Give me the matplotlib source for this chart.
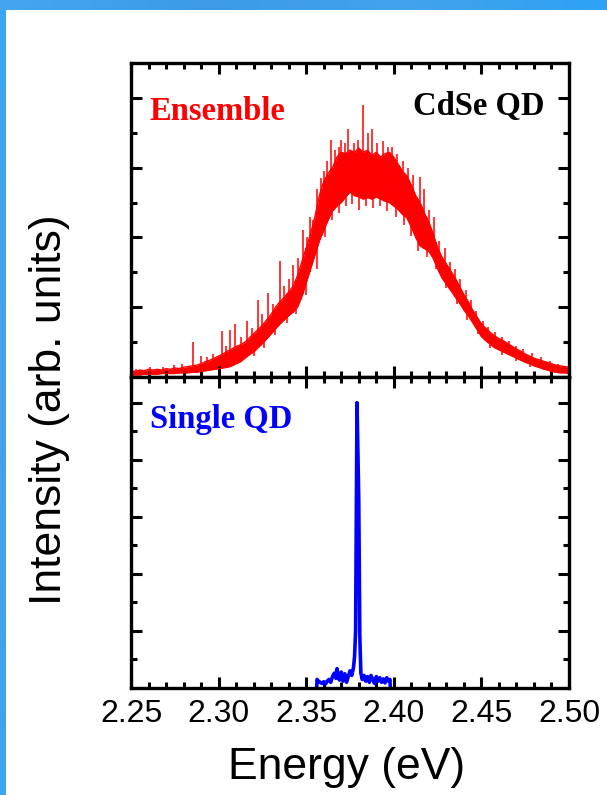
import numpy as np
import matplotlib.pyplot as plt
from matplotlib.colors import LinearSegmentedColormap
from matplotlib.ticker import MultipleLocator

# ensemble PL spectrum: energy grid with lower / upper edge of the noisy band
e_ens = [2.2500, 2.2525, 2.2550, 2.2575, 2.2600, 2.2625, 2.2650, 2.2675, 2.2700, 2.2725,
         2.2750, 2.2775, 2.2800, 2.2825, 2.2850, 2.2875, 2.2900, 2.2925, 2.2950, 2.2975,
         2.3000, 2.3025, 2.3050, 2.3075, 2.3100, 2.3125, 2.3150, 2.3175, 2.3200, 2.3225,
         2.3250, 2.3275, 2.3300, 2.3325, 2.3350, 2.3375, 2.3400, 2.3425, 2.3450, 2.3475,
         2.3500, 2.3525, 2.3550, 2.3575, 2.3600, 2.3625, 2.3650, 2.3675, 2.3700, 2.3725,
         2.3750, 2.3775, 2.3800, 2.3825, 2.3850, 2.3875, 2.3900, 2.3925, 2.3950, 2.3975,
         2.4000, 2.4025, 2.4050, 2.4075, 2.4100, 2.4125, 2.4150, 2.4175, 2.4200, 2.4225,
         2.4250, 2.4275, 2.4300, 2.4325, 2.4350, 2.4375, 2.4400, 2.4425, 2.4450, 2.4475,
         2.4500, 2.4525, 2.4550, 2.4575, 2.4600, 2.4625, 2.4650, 2.4675, 2.4700, 2.4725,
         2.4750, 2.4775, 2.4800, 2.4825, 2.4850, 2.4875, 2.4900, 2.4925, 2.4950, 2.4975,
         2.5000]
ens_lo = [0.03, 0.03, 0.03, 0.04, 0.04, 0.04, 0.04, 0.05, 0.05, 0.05,
          0.05, 0.06, 0.06, 0.06, 0.07, 0.07, 0.08, 0.09, 0.10, 0.11,
          0.12, 0.13, 0.14, 0.16, 0.19, 0.22, 0.27, 0.32, 0.36, 0.42,
          0.48, 0.55, 0.62, 0.69, 0.76, 0.82, 0.88, 0.93, 1.00, 1.15,
          1.35, 1.55, 1.75, 1.95, 2.10, 2.25, 2.38, 2.45, 2.50, 2.58,
          2.65, 2.60, 2.58, 2.55, 2.57, 2.55, 2.58, 2.55, 2.52, 2.50,
          2.45, 2.40, 2.33, 2.28, 2.15, 2.00, 1.88, 1.84, 1.80, 1.70,
          1.55, 1.42, 1.33, 1.24, 1.15, 1.06, 0.96, 0.88, 0.78, 0.68,
          0.58, 0.52, 0.47, 0.42, 0.39, 0.36, 0.33, 0.30, 0.27, 0.24,
          0.21, 0.19, 0.16, 0.14, 0.12, 0.10, 0.08, 0.07, 0.06, 0.06,
          0.05]
ens_hi = [0.09, 0.08, 0.10, 0.09, 0.11, 0.10, 0.11, 0.10, 0.12, 0.11,
          0.13, 0.12, 0.14, 0.15, 0.16, 0.17, 0.19, 0.22, 0.24, 0.27,
          0.30, 0.33, 0.37, 0.40, 0.44, 0.46, 0.50, 0.56, 0.62, 0.68,
          0.74, 0.82, 0.90, 1.00, 1.08, 1.14, 1.22, 1.30, 1.45, 1.65,
          1.85, 2.05, 2.30, 2.60, 2.80, 2.92, 3.00, 3.15, 3.22, 3.20,
          3.25, 3.22, 3.28, 3.22, 3.25, 3.18, 3.22, 3.15, 3.20, 3.22,
          3.15, 3.05, 2.95, 2.88, 2.75, 2.60, 2.50, 2.35, 2.22, 2.05,
          1.85, 1.72, 1.62, 1.52, 1.42, 1.30, 1.18, 1.08, 0.96, 0.86,
          0.76, 0.70, 0.64, 0.59, 0.55, 0.52, 0.48, 0.44, 0.40, 0.37,
          0.33, 0.30, 0.27, 0.25, 0.23, 0.21, 0.19, 0.17, 0.16, 0.15,
          0.14]

# noise spikes above the band (energy, top value)
spike_e = [2.2530, 2.2610, 2.2680, 2.2745, 2.2790, 2.2854, 2.2898, 2.2935, 2.2970, 2.3018,
           2.3040, 2.3065, 2.3094, 2.3125, 2.3160, 2.3190, 2.3225, 2.3250, 2.3280, 2.3310,
           2.3350, 2.3375, 2.3400, 2.3425, 2.3455, 2.3480, 2.3505, 2.3520, 2.3540, 2.3560,
           2.3585, 2.3600, 2.3620, 2.3640, 2.3665, 2.3685, 2.3700, 2.3720, 2.3740, 2.3770,
           2.3795, 2.3824, 2.3850, 2.3875, 2.3905, 2.3940, 2.3965, 2.3990, 2.4020, 2.4050,
           2.4080, 2.4110, 2.4150, 2.4175, 2.4200, 2.4230, 2.4260, 2.4290, 2.4320, 2.4350,
           2.4380, 2.4410, 2.4440, 2.4470, 2.4510, 2.4540, 2.4580, 2.4620, 2.4660, 2.4700,
           2.4740, 2.4790, 2.4840, 2.4890, 2.4940, 2.4980]
spike_h = [0.12, 0.14, 0.15, 0.17, 0.18, 0.50, 0.30, 0.28, 0.33, 0.66,
           0.45, 0.68, 0.76, 0.58, 0.80, 0.70, 1.10, 0.90, 1.20, 1.05,
           1.66, 1.30, 1.40, 1.60, 1.70, 2.10, 2.00, 2.30, 2.25, 2.70,
           2.85, 2.95, 3.10, 3.40, 3.25, 3.30, 3.40, 3.35, 3.55, 3.35,
           3.40, 3.90, 3.50, 3.55, 3.35, 3.38, 3.30, 3.30, 3.20, 3.10,
           3.00, 2.90, 2.86, 2.70, 2.40, 2.30, 1.95, 1.85, 1.65, 1.55,
           1.40, 1.25, 1.10, 0.95, 0.80, 0.72, 0.64, 0.58, 0.52, 0.45,
           0.40, 0.34, 0.28, 0.23, 0.19, 0.16]

# noise dips below the band (energy, bottom value)
dip_e = [2.3200, 2.3260, 2.3320, 2.3390, 2.3440, 2.3500, 2.3560, 2.3610, 2.3650, 2.3690,
         2.3730, 2.3760, 2.3800, 2.3840, 2.3880, 2.3920, 2.3960, 2.4010, 2.4060, 2.4100,
         2.4140, 2.4190, 2.4240, 2.4300, 2.4360, 2.4420, 2.4480, 2.4550, 2.4620, 2.4700,
         2.4780, 2.4860]
dip_v = [0.30, 0.42, 0.60, 0.78, 0.90, 1.18, 1.55, 2.00, 2.25, 2.35,
         2.45, 2.48, 2.40, 2.45, 2.42, 2.45, 2.38, 2.30, 2.18, 2.02,
         1.80, 1.72, 1.55, 1.28, 1.05, 0.82, 0.62, 0.42, 0.32, 0.23,
         0.15, 0.10]

# single dot spectrum
e_qd = [2.3560, 2.3562, 2.3570, 2.3580, 2.3590, 2.3600, 2.3610, 2.3620, 2.3630, 2.3640,
        2.3650, 2.3660, 2.3670, 2.3676, 2.3682, 2.3690, 2.3700, 2.3710, 2.3720, 2.3730,
        2.3740, 2.3750, 2.3760, 2.3770, 2.3776, 2.3782, 2.3790, 2.3800, 2.3806, 2.3812,
        2.3820, 2.3830, 2.3840, 2.3850, 2.3860, 2.3870, 2.3880, 2.3890, 2.3900, 2.3910,
        2.3920, 2.3930, 2.3940, 2.3950, 2.3960, 2.3970, 2.3978, 2.3980]
qd = [0.00, 0.15, 0.12, 0.10, 0.08, 0.11, 0.07, 0.12, 0.15, 0.10,
      0.20, 0.26, 0.17, 0.34, 0.22, 0.14, 0.28, 0.12, 0.25, 0.10,
      0.20, 0.30, 0.22, 0.36, 0.55, 1.00, 5.00, 3.30, 0.90, 0.26,
      0.15, 0.22, 0.12, 0.20, 0.10, 0.22, 0.15, 0.08, 0.20, 0.12,
      0.18, 0.10, 0.16, 0.09, 0.18, 0.12, 0.15, 0.00]

xticks = [2.25, 2.30, 2.35, 2.40, 2.45, 2.50]
xticklabels = ["2.25", "2.30", "2.35", "2.40", "2.45", "2.50"]

W, H = 607, 795
fig = plt.figure(figsize=(W / 100, H / 100), dpi=100)
fig.patch.set_facecolor("white")

# blue slide frame (top strip and left strip)
top = fig.add_axes([0, 1 - 10 / H, 1, 10 / H])
top.imshow(np.linspace(0, 1, 256).reshape(1, -1), aspect="auto",
           cmap=LinearSegmentedColormap.from_list(
               "t", ["#45a6ee", "#3d9be6", "#42a2ea", "#2ea2f5"]), extent=[0, 1, 0, 1])
top.axis("off")
left = fig.add_axes([0, 0, 6 / W, 1 - 10 / H])
left.imshow(np.linspace(0, 1, 256).reshape(-1, 1), aspect="auto",
            cmap=LinearSegmentedColormap.from_list(
                "l", ["#3aa8f0", "#4aa0e6", "#3ba6ee"]), extent=[0, 1, 0, 1])
left.axis("off")

x0, x1 = 131 / W, 569 / W
y_top, y_mid, y_bot = 1 - 63 / H, 1 - 377 / H, 1 - 688 / H
ax1 = fig.add_axes([x0, y_mid, x1 - x0, y_top - y_mid])
ax2 = fig.add_axes([x0, y_bot, x1 - x0, y_mid - y_bot])

red = "#ff0000"
blue = "#0000ff"
ax1.fill_between(e_ens, ens_lo, ens_hi, color=red, lw=0)
ax1.plot(e_ens, ens_hi, color=red, lw=1.0)
ax1.plot(e_ens, ens_lo, color=red, lw=1.0)
ax1.vlines(spike_e, np.interp(spike_e, e_ens, ens_lo), spike_h, color=red, lw=1.1)
ax1.vlines(dip_e, dip_v, np.interp(dip_e, e_ens, ens_hi), color=red, lw=1.1)
ax1.set_ylim(0, 4.5)

ax2.plot(e_qd, qd, color=blue, lw=2.6)
ax2.set_ylim(0, 5.45)

for ax in (ax1, ax2):
    ax.set_xlim(2.25, 2.50)
    ax.xaxis.set_major_locator(MultipleLocator(0.05))
    ax.xaxis.set_minor_locator(MultipleLocator(0.01))
    ax.yaxis.set_major_locator(MultipleLocator(1))
    ax.yaxis.set_minor_locator(MultipleLocator(0.5))
    ax.tick_params(which="both", direction="in", top=True, right=True, width=2.2,
                   labelleft=False)
    ax.tick_params(which="major", length=8)
    ax.tick_params(which="minor", length=4.5)
    for s in ax.spines.values():
        s.set_linewidth(2.4)

ax1.tick_params(labelbottom=False)
ax2.set_xticks(xticks)
ax2.set_xticklabels(xticklabels, family="Liberation Sans", fontsize=23)
ax2.tick_params(axis="x", pad=8)

serif = dict(family="Liberation Serif", fontweight="bold", fontsize=23.5)
ax1.text(0.043, 0.844, "Ensemble", color=red, transform=ax1.transAxes,
         ha="left", va="center", **serif)
ax1.text(0.945, 0.86, "CdSe QD", color="black", transform=ax1.transAxes,
         ha="right", va="center", **serif)
ax2.text(0.043, 0.862, "Single QD", color=blue, transform=ax2.transAxes,
         ha="left", va="center", **serif)

fig.text(347 / W, 1 - 768 / H, "Energy (eV)", family="Liberation Sans", fontsize=32,
         ha="center", va="center")
fig.text(50 / W, 1 - 410 / H, "Intensity (arb. units)", family="Liberation Sans",
         fontsize=32, rotation=90, ha="center", va="center")

fig.savefig("out.png", dpi=100)
